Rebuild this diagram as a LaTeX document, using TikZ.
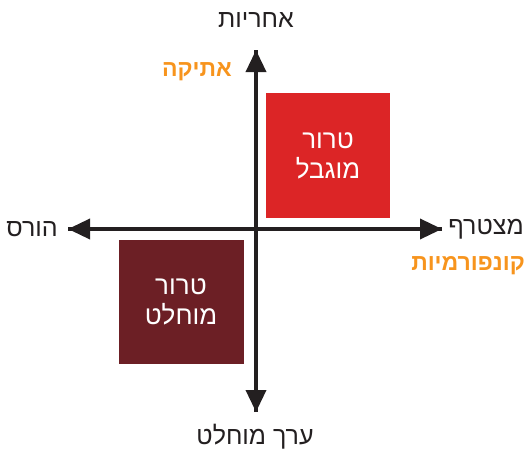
\documentclass[tikz,border=0pt]{standalone}
\usepackage{fontspec}
\setmainfont{Liberation Sans}
\newfontfamily\hebfont[Script=Hebrew]{Liberation Sans}
\TeXXeTstate=1
\usetikzlibrary{arrows.meta}
\definecolor{terrorRed}{RGB}{220,37,38}
\definecolor{terrorDark}{RGB}{108,31,37}
\definecolor{labelOrange}{RGB}{247,148,29}
\tikzset{every picture/.style={line width=0.75pt}}
\tikzset{
  axisline/.style={line width=3.6pt,color={rgb,255:red,35;green,31;blue,32},-{Triangle[length=22pt,width=20pt]}},
  axislabel/.style={inner sep=0.75pt,font=\hebfont\fontsize{25}{28}\selectfont,color={rgb,255:red,35;green,31;blue,32}},
  orangelabel/.style={inner sep=0.75pt,font=\hebfont\bfseries\fontsize{23}{26}\selectfont,color=labelOrange},
  boxtext/.style={inner sep=0.75pt,font=\hebfont\fontsize{26}{30}\selectfont,color=white,align=center}
}
\def \axX {256}
\def \axY {229}

\begin{document}
\begin{tikzpicture}[x=1pt,y=1pt,yscale=-1,xscale=1]
	\useasboundingbox (0,0) rectangle (527,450);

	%Shape: Rectangle [id:terrorLimited]
	\draw [draw=none,fill=terrorRed] (266,93) rectangle (390,218) ;
	%Shape: Rectangle [id:terrorAbsolute]
	\draw [draw=none,fill=terrorDark] (119,240) rectangle (244,364) ;

	% Axis ends
	\coordinate (axTop) at (\axX,50) ;
	\coordinate (axBottom) at (\axX,412) ;
	\coordinate (axLeft) at (68,\axY) ;
	\coordinate (axRight) at (442,\axY) ;
	\draw [axisline] (axBottom) -- (axTop) ;
	\draw [axisline] (axTop) -- (axBottom) ;
	\draw [axisline] (axRight) -- (axLeft) ;
	\draw [axisline] (axLeft) -- (axRight) ;

	% Text Node
	\draw (\axX,20) node (responsibility) [axislabel] {\beginR אחריות\endR};
	% Text Node
	\draw (197,72) node (ethics) [orangelabel] {\beginR אתיקה\endR};
	% Text Node
	\draw (32,229) node (destroys) [axislabel] {\beginR הורס\endR};
	% Text Node
	\draw (486,229) node (joins) [axislabel] {\beginR מצטרף\endR};
	% Text Node
	\draw (468,266) node (conformity) [orangelabel] {\beginR קונפורמיות\endR};
	% Text Node
	\draw (255,437) node (absvalue) [axislabel] {\beginR ערך מוחלט\endR};

	% Text Node
	\draw (328,156) node (limitedText) [boxtext] {\beginR טרור\endR\\\beginR מוגבל\endR};
	% Text Node
	\draw (181,302) node (absoluteText) [boxtext] {\beginR טרור\endR\\\beginR מוחלט\endR};

\end{tikzpicture}
\end{document}
